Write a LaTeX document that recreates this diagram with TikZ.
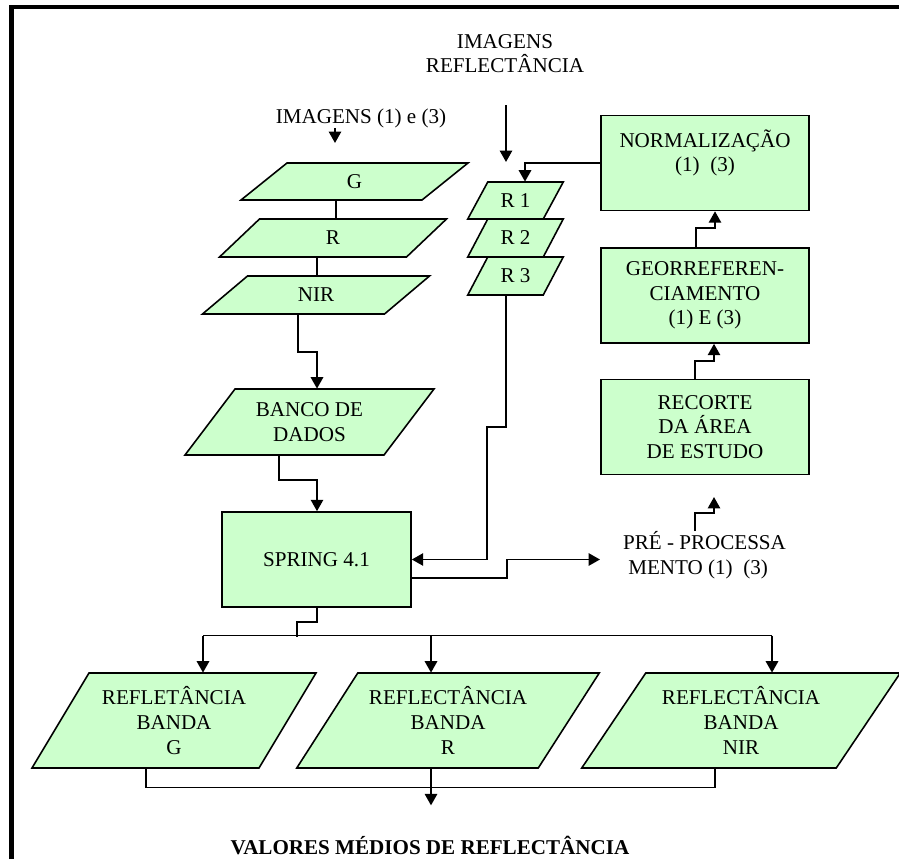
\documentclass[tikz,border=0pt]{standalone}
\usepackage{fontspec}
\setmainfont{Liberation Serif}
\usetikzlibrary{arrows.meta,calc}
\definecolor{boxgreen}{RGB}{204,255,204}

% slanted data shape: name, cx, cy, width, height, slant, text
\newcommand{\dataslab}[7]{%
  \filldraw[slab] (#2-#4/2-#6/2,#3+#5/2) -- (#2+#4/2-#6/2,#3+#5/2)
    -- (#2+#4/2+#6/2,#3-#5/2) -- (#2-#4/2+#6/2,#3-#5/2) -- cycle;
  \node[slabtext, minimum width=#4*0.02cm, minimum height=#5*0.02cm] (#1) at (#2,#3) {#7};
}

\begin{document}
\begin{tikzpicture}[x=0.02cm, y=-0.02cm,
    font=\fontsize{12}{14}\selectfont,
    box/.style={draw, line width=0.9pt, fill=boxgreen, minimum width=208*0.02cm,
      minimum height=95*0.02cm, inner sep=0pt, align=center},
    slab/.style={draw, line width=0.9pt, fill=boxgreen},
    slabtext/.style={inner sep=0pt, align=center},
    arr/.style={line width=1.1pt, -{Triangle[length=6.5pt,width=7pt]}},
    link/.style={line width=0.8pt}]
    \useasboundingbox (0,0) rectangle (899,859);

    % Frame
    \draw[line width=2.5pt] (11.5,859) -- (11.5,7) -- (899,7);

    % Processing boxes
    \node[box] (norm) at (705,163) {NORMALIZAÇÃO\\(1)\ \ (3)\\\mbox{}};
    \node[box] (geo) at (705,295.5) {GEORREFEREN-\\CIAMENTO\\(1) E (3)};
    \node[box] (recorte) at (705,427) {RECORTE\\DA ÁREA\\DE ESTUDO};
    \node[box, minimum width=189*0.02cm] (spring) at (316.5,559.5) {SPRING 4.1};

    % Image bands and data
    \dataslab{g}{354.5}{181.5}{181}{37}{46}{G}
    \dataslab{r}{333}{238}{187}{38}{40}{R}
    \dataslab{nir}{316}{295}{182}{38}{45}{NIR}
    \dataslab{banco}{309.5}{422}{199}{66}{50}{BANCO DE\\DADOS}
    \dataslab{ra}{515.5}{200.5}{75.5}{37}{20}{R 1}
    \dataslab{rb}{515.5}{238}{75.5}{38}{20}{R 2}
    \dataslab{rc}{515.5}{276}{75.5}{38}{20}{R 3}
    \dataslab{refg}{174}{720.5}{227}{95}{57}{REFLETÂNCIA\\BANDA\\G}
    \dataslab{refr}{448}{720.5}{241.5}{95}{61}{REFLECTÂNCIA\\BANDA\\R}
    \dataslab{refnir}{741}{720.5}{254.5}{95}{64}{REFLECTÂNCIA\\BANDA\\NIR}

    % Free labels
    \node[inner sep=0pt] (imgs) at (361,118) {IMAGENS (1) e (3)};
    \node[inner sep=0pt, align=center] (imgref) at (505,53.5) {IMAGENS\\REFLECTÂNCIA};
    \node[inner sep=0pt, align=left] (pre) at (704.5,555) {PRÉ - PROCESSA\\\ MENTO (1)\ \ (3)};
    \node[inner sep=0pt, font=\fontsize{12}{14}\selectfont\bfseries] (valores) at (430,845)
      {VALORES MÉDIOS DE REFLECTÂNCIA};
    \coordinate (imgsend) at (335,143);
    \coordinate (refstart) at (506,105);
    \coordinate (refend) at (506,162);
    \coordinate (preend) at (600,559.5);
    \coordinate (recend) at (714,497);

    % Inputs
    \draw[arr] ($(imgs.south)+(-26,0)$) -- (imgsend);
    \draw[arr] (refstart) -- (refend);

    % Left column
    \draw[link] ($(g.south)+(-18.5,0)$) -- ($(r.north)+(3,0)$);
    \draw[link] ($(r.south)+(-16,0)$) -- ($(nir.north)+(1,0)$);
    \draw[arr] ($(nir.south)+(-18,0)$) -- ++(0,38) -| ($(banco.north)+(7.5,0)$);
    \draw[arr] ($(banco.south)+(-30.5,0)$) -- ++(0,25) -| ($(spring.north)+(0.5,0)$);

    % Pre-processing chain
    \draw[arr] ($(pre.north)+(-9.5,0)$) -- ++(0,-18) -| (recend);
    \draw[arr] ($(recorte.north)+(-10,0)$) -- ++(0,-18) -| ($(geo.south)+(9,0)$);
    \draw[arr] ($(geo.north)+(-9,0)$) -- ++(0,-19) -| ($(norm.south)+(10,0)$);
    \draw[arr] (norm.west) -| ($(ra.north)+(9.5,0)$);

    % Reflectance images to SPRING and out
    \draw[arr] ($(rc.south)+(-9.5,0)$) -- ++(0,132) -- ++(-19,0) |- (spring.east);
    \draw[arr] ($(spring.east)+(0,18.5)$) -- ++(95,0) |- (preend);

    % SPRING to the bands
    \draw[link] ($(spring.south)+(0.5,0)$) -- ++(0,14) -- ++(-20,0) -- ++(0,15);
    \draw[link] ($(refg.north)+(29,-37)$) -- ($(refnir.north)+(31,-37)$);
    \foreach \n/\dx in {refg/29, refr/-17, refnir/31}
      \draw[arr] ($(\n.north)+(\dx,-37)$) -- ($(\n.north)+(\dx,0)$);

    % Mean values
    \draw[link] ($(refg.south)+(-28,0)$) -- ++(0,19) -| ($(refnir.south)+(-26,0)$);
    \draw[arr] ($(refr.south)+(-17,0)$) -- ++(0,37);
\end{tikzpicture}
\end{document}
